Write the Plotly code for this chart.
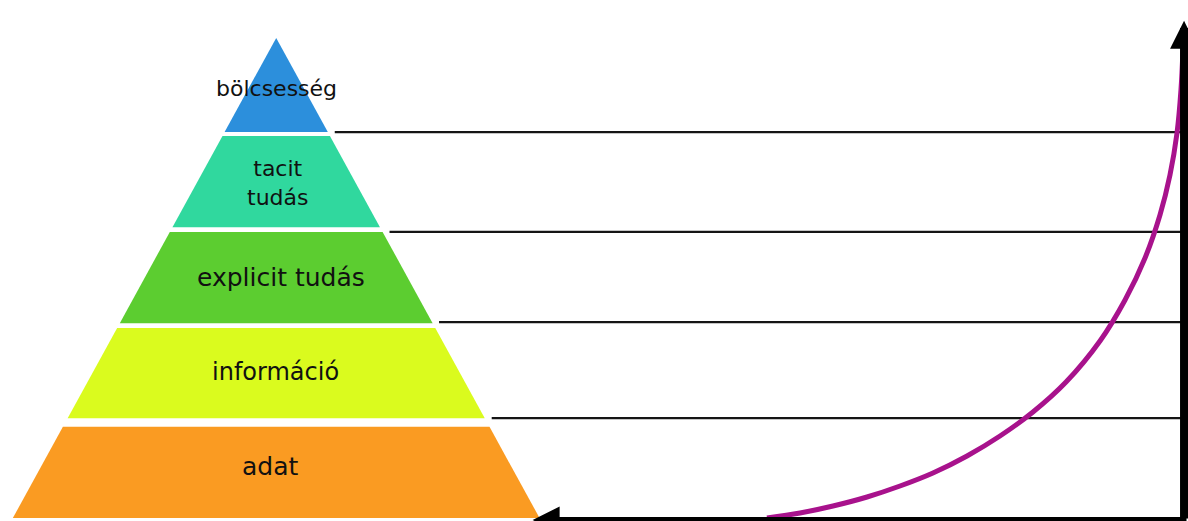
import plotly.graph_objects as go

# ---- data ----
levels = ["adat", "információ", "explicit tudás", "tacit<br>tudás", "bölcsesség"]
level_colors = ["#fa9b22", "#dafb1e", "#5ccd30", "#30d89e", "#2c8fdc"]
level_bottom = [0.0, 20.8, 40.6, 60.6, 80.4]
level_top = [19.0, 39.6, 59.6, 79.6, 100.0]
label_y = [10.8, 30.4, 50.2, 69.8, 89.4]
label_x = [27.3, 27.8, 28.4, 28.0, 27.9]
label_size = [25, 24, 25, 22, 22]

divider_y = [20.8, 40.8, 59.6, 80.4]

curve_x = [77.47, 80.81, 84.14, 87.58, 90.91, 94.24, 97.68, 101.01, 104.34, 107.68,
           111.11, 113.64, 115.66, 117.17, 118.18, 118.89, 119.29, 119.49]
curve_y = [0.0, 1.04, 2.50, 4.38, 6.67, 9.38, 12.92, 17.08, 22.08, 28.33,
           36.88, 45.42, 54.17, 63.13, 71.46, 80.21, 89.17, 97.5]

# geometry of pyramid / axes (in axis units)
apex_x = 27.9
base_half = 26.6
axis_x = 119.6
axis_top = 103.6
bottom_axis_y = -0.42
bottom_axis_left = 53.8


def half_width(y):
    return base_half * (1 - y / 100.0)


fig = go.Figure()

for name, col, b, t in zip(levels, level_colors, level_bottom, level_top):
    hb, ht = half_width(b), half_width(t)
    xs = [apex_x - hb, apex_x + hb, apex_x + ht, apex_x - ht, apex_x - hb]
    ys = [b, b, t, t, b]
    fig.add_trace(go.Scatter(x=xs, y=ys, fill="toself", fillcolor=col,
                             mode="lines", line=dict(width=0),
                             hoverinfo="skip", showlegend=False))

# horizontal divider lines from pyramid edge to vertical axis
for y in divider_y:
    x0 = apex_x + half_width(y) + 0.7
    fig.add_trace(go.Scatter(x=[x0, axis_x], y=[y, y], mode="lines",
                             line=dict(color="#151515", width=2.2),
                             hoverinfo="skip", showlegend=False))

# axes with arrows
fig.add_annotation(x=axis_x, y=axis_top, ax=axis_x, ay=bottom_axis_y,
                   xref="x", yref="y", axref="x", ayref="y", text="",
                   showarrow=True, arrowhead=2, arrowsize=0.7,
                   arrowwidth=8, arrowcolor="#000000")
fig.add_annotation(x=bottom_axis_left, y=bottom_axis_y, ax=axis_x + 0.4, ay=bottom_axis_y,
                   xref="x", yref="y", axref="x", ayref="y", text="",
                   showarrow=True, arrowhead=2, arrowsize=0.9,
                   arrowwidth=6, arrowcolor="#000000")

# growth curve
fig.add_trace(go.Scatter(x=curve_x, y=curve_y, mode="lines",
                         line=dict(color="#a8128c", width=5, shape="spline", smoothing=1.0),
                         hoverinfo="skip", showlegend=False))

for name, lx, ly, fs in zip(levels, label_x, label_y, label_size):
    fig.add_annotation(x=lx, y=ly, xref="x", yref="y", text=name, showarrow=False,
                       font=dict(family="DejaVu Sans", size=fs, color="#111111"))

fig.update_layout(
    width=1188, height=521,
    margin=dict(l=0, r=0, t=0, b=0),
    paper_bgcolor="white", plot_bgcolor="white",
    xaxis=dict(range=[0, 120], visible=False, fixedrange=True),
    yaxis=dict(range=[-0.625, 107.92], visible=False, fixedrange=True),
)

fig.write_html("out.html",
               config={"displayModeBar": False},
               post_script="document.body.style.margin='0';document.body.style.overflow='hidden';")
